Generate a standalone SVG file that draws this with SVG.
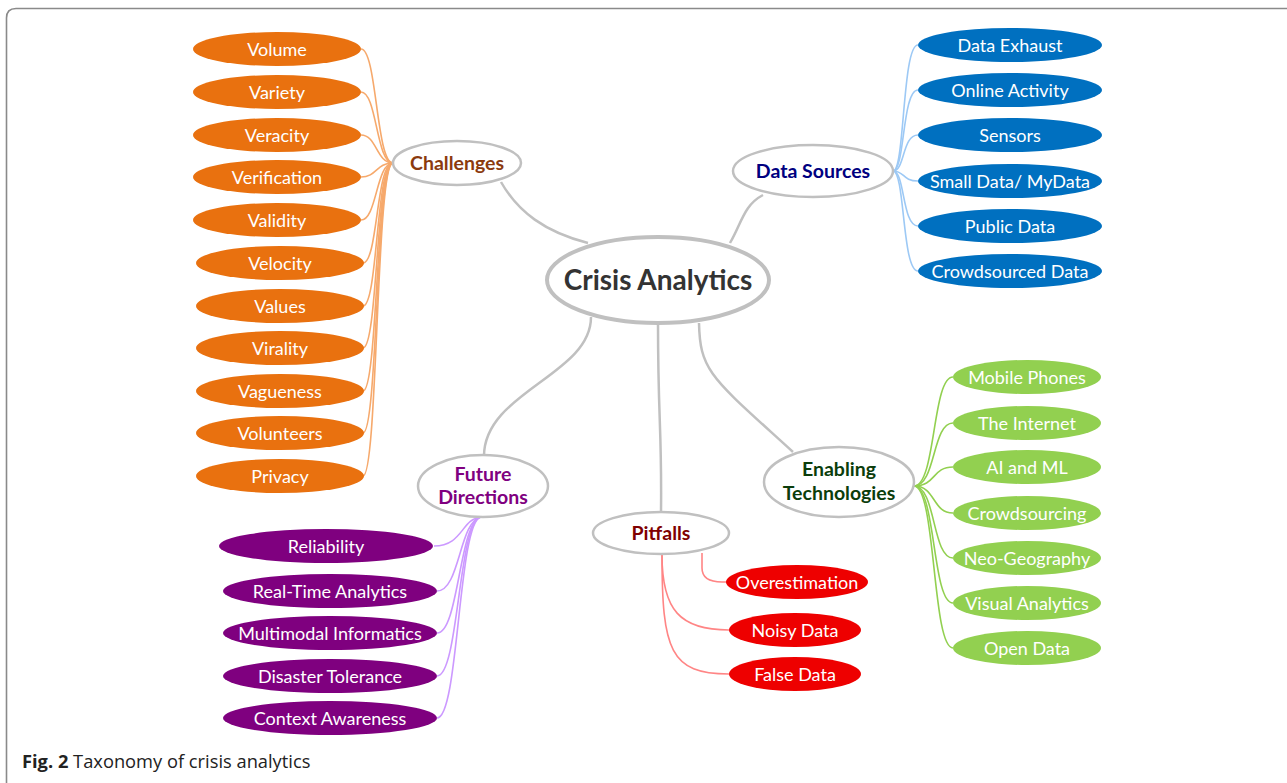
<svg xmlns="http://www.w3.org/2000/svg" width="1287" height="783" viewBox="0 0 1287 783">
<style>
text{font-family:Lato,"Open Sans","DejaVu Sans",sans-serif;text-anchor:middle}
.leaf{font-size:18px;fill:#fff}
.hub{fill:#fff;stroke:#c0c0c0;stroke-width:2.5}
.hubt{font-size:19.5px;font-weight:bold}
.main{fill:none;stroke:#c0c0c0;stroke-width:2.5}
.or{fill:#e9710f}.bl{fill:#0070c0}.pu{fill:#7f007f}.rd{fill:#ee0000}.gr{fill:#92d050}
.cor{fill:none;stroke:#f6a96c;stroke-width:1.6}
.cbl{fill:none;stroke:#9dc9f5;stroke-width:1.6}
.cpu{fill:none;stroke:#cc99ff;stroke-width:1.6}
.crd{fill:none;stroke:#ff8585;stroke-width:1.6}
.cgr{fill:none;stroke:#92d050;stroke-width:1.6}
</style>
<rect width="1287" height="783" fill="#fff"/>
<path d="M6.5 783 V18 Q6.5 8.5 16 8.5 H1287" fill="none" stroke="#8a8a8a" stroke-width="1.6"/>

<g id="connectors">
  <path class="main" d="M501 182 C518 212 545 232 588 243"/>
  <path class="main" d="M730 243 C742 222 744 205 763 195"/>
  <path class="main" d="M591 317 C591 375 484 392 484 456"/>
  <path class="main" d="M658 324 C658 420 662 430 661 512"/>
  <path class="main" d="M699 323 C700 372 712 378 793 452"/>
  <g>
    <path class="cor" d="M393 163 C376 163 377 49 361 49"/>
    <path class="cor" d="M393 163 C376 163 377 92 361 92"/>
    <path class="cor" d="M393 163 C376 163 377 135 361 135"/>
    <path class="cor" d="M393 163 C376 163 377 177 361 177"/>
    <path class="cor" d="M393 163 C376 163 377 220 361 220"/>
    <path class="cor" d="M393 163 C376 163 378 263 363 263"/>
    <path class="cor" d="M393 163 C376 163 378 306 363 306"/>
    <path class="cor" d="M393 163 C376 163 378 348 363 348"/>
    <path class="cor" d="M393 163 C376 163 378 391 363 391"/>
    <path class="cor" d="M393 163 C376 163 378 433 363 433"/>
    <path class="cor" d="M393 163 C376 163 378 476 363 476"/>
  </g>
  <g>
    <path class="cbl" d="M893 171 C905 171 902 45 918 45"/>
    <path class="cbl" d="M893 171 C905 171 902 90 918 90"/>
    <path class="cbl" d="M893 171 C905 171 902 135 918 135"/>
    <path class="cbl" d="M893 171 C905 171 902 181 918 181"/>
    <path class="cbl" d="M893 171 C905 171 902 226 918 226"/>
    <path class="cbl" d="M893 171 C905 171 902 271 918 271"/>
  </g>
  <g>
    <path class="cpu" d="M481 517 C461 519 463 546 434 546"/>
    <path class="cpu" d="M481 517 C459 521 460 591 437 591"/>
    <path class="cpu" d="M481 517 C459 521 459 633 437 633"/>
    <path class="cpu" d="M481 517 C458 521 459 676 437 676"/>
    <path class="cpu" d="M481 517 C458 521 459 718 437 718"/>
  </g>
  <g>
    <path class="crd" d="M702 553 V568 Q702 582 722 582 H727"/>
    <path class="crd" d="M662 555 C662 610 680 630 729 630"/>
    <path class="crd" d="M662 555 C662 650 670 674 729 674"/>
  </g>
  <g>
    <path class="cgr" d="M914 486 C936 486 932 377 953 377"/>
    <path class="cgr" d="M914 486 C936 486 932 423 953 423"/>
    <path class="cgr" d="M914 486 C936 486 932 467 953 467"/>
    <path class="cgr" d="M914 486 C936 486 932 513 953 513"/>
    <path class="cgr" d="M914 486 C936 486 932 558 953 558"/>
    <path class="cgr" d="M914 486 C936 486 932 603 953 603"/>
    <path class="cgr" d="M914 486 C936 486 932 648 953 648"/>
  </g>
</g>

<g id="crisis-analytics">
  <ellipse cx="658" cy="280" rx="111" ry="43" fill="#fff" stroke="#c0c0c0" stroke-width="4"/>
  <text x="658" y="290" style="font-size:28px;font-weight:bold;fill:#333">Crisis Analytics</text>
</g>

<g id="challenges">
  <ellipse class="hub" cx="457" cy="163" rx="64" ry="22"/>
  <text class="hubt" x="457" y="170" fill="#8b3a0e">Challenges</text>
</g>
<g id="volume"><ellipse class="or" cx="277" cy="49" rx="84" ry="17"/><text class="leaf" x="277" y="55.5">Volume</text></g>
<g id="variety"><ellipse class="or" cx="277" cy="92" rx="84" ry="17"/><text class="leaf" x="277" y="98.5">Variety</text></g>
<g id="veracity"><ellipse class="or" cx="277" cy="135" rx="84" ry="17"/><text class="leaf" x="277" y="141.5">Veracity</text></g>
<g id="verification"><ellipse class="or" cx="277" cy="177" rx="84" ry="17"/><text class="leaf" x="277" y="183.5">Verification</text></g>
<g id="validity"><ellipse class="or" cx="277" cy="220" rx="84" ry="17"/><text class="leaf" x="277" y="226.5">Validity</text></g>
<g id="velocity"><ellipse class="or" cx="280" cy="263" rx="84" ry="17"/><text class="leaf" x="280" y="269.5">Velocity</text></g>
<g id="values"><ellipse class="or" cx="280" cy="306" rx="84" ry="17"/><text class="leaf" x="280" y="312.5">Values</text></g>
<g id="virality"><ellipse class="or" cx="280" cy="348" rx="84" ry="17"/><text class="leaf" x="280" y="354.5">Virality</text></g>
<g id="vagueness"><ellipse class="or" cx="280" cy="391" rx="84" ry="17"/><text class="leaf" x="280" y="397.5">Vagueness</text></g>
<g id="volunteers"><ellipse class="or" cx="280" cy="433" rx="84" ry="17"/><text class="leaf" x="280" y="439.5">Volunteers</text></g>
<g id="privacy"><ellipse class="or" cx="280" cy="476" rx="84" ry="17"/><text class="leaf" x="280" y="482.5">Privacy</text></g>

<g id="data-sources">
  <ellipse class="hub" cx="813" cy="171" rx="80" ry="26"/>
  <text class="hubt" x="813" y="178" fill="#000080">Data Sources</text>
</g>
<g id="data-exhaust"><ellipse class="bl" cx="1010" cy="45" rx="92" ry="17"/><text class="leaf" x="1010" y="51.5">Data Exhaust</text></g>
<g id="online-activity"><ellipse class="bl" cx="1010" cy="90" rx="92" ry="17"/><text class="leaf" x="1010" y="96.5">Online Activity</text></g>
<g id="sensors"><ellipse class="bl" cx="1010" cy="135" rx="92" ry="17"/><text class="leaf" x="1010" y="141.5">Sensors</text></g>
<g id="small-data"><ellipse class="bl" cx="1010" cy="181" rx="92" ry="17"/><text class="leaf" x="1010" y="187.5">Small Data/ MyData</text></g>
<g id="public-data"><ellipse class="bl" cx="1010" cy="226" rx="92" ry="17"/><text class="leaf" x="1010" y="232.5">Public Data</text></g>
<g id="crowdsourced-data"><ellipse class="bl" cx="1010" cy="271" rx="92" ry="17"/><text class="leaf" x="1010" y="277.5">Crowdsourced Data</text></g>

<g id="future-directions">
  <ellipse class="hub" cx="483" cy="486" rx="65" ry="31"/>
  <text class="hubt" x="483" y="481" fill="#800080">Future</text>
  <text class="hubt" x="483" y="504" fill="#800080">Directions</text>
</g>
<g id="reliability"><ellipse class="pu" cx="326" cy="546" rx="107" ry="17"/><text class="leaf" x="326" y="552.5">Reliability</text></g>
<g id="real-time-analytics"><ellipse class="pu" cx="330" cy="591" rx="107" ry="17"/><text class="leaf" x="330" y="597.5">Real-Time Analytics</text></g>
<g id="multimodal-informatics"><ellipse class="pu" cx="330" cy="633" rx="107" ry="17"/><text class="leaf" x="330" y="639.5">Multimodal Informatics</text></g>
<g id="disaster-tolerance"><ellipse class="pu" cx="330" cy="676" rx="107" ry="17"/><text class="leaf" x="330" y="682.5">Disaster Tolerance</text></g>
<g id="context-awareness"><ellipse class="pu" cx="330" cy="718" rx="107" ry="17"/><text class="leaf" x="330" y="724.5">Context Awareness</text></g>

<g id="pitfalls">
  <ellipse class="hub" cx="661" cy="533" rx="68" ry="21"/>
  <text class="hubt" x="661" y="540" fill="#800000">Pitfalls</text>
</g>
<g id="overestimation"><ellipse class="rd" cx="797" cy="582" rx="71" ry="17"/><text class="leaf" x="797" y="588.5">Overestimation</text></g>
<g id="noisy-data"><ellipse class="rd" cx="795" cy="630" rx="66" ry="17"/><text class="leaf" x="795" y="636.5">Noisy Data</text></g>
<g id="false-data"><ellipse class="rd" cx="795" cy="674" rx="66" ry="17"/><text class="leaf" x="795" y="680.5">False Data</text></g>

<g id="enabling-technologies">
  <ellipse class="hub" cx="839" cy="482" rx="75" ry="35"/>
  <text class="hubt" x="839" y="476" fill="#0b3d0b">Enabling</text>
  <text class="hubt" x="839" y="500" fill="#0b3d0b">Technologies</text>
</g>
<g id="mobile-phones"><ellipse class="gr" cx="1027" cy="377" rx="74" ry="17"/><text class="leaf" x="1027" y="383.5">Mobile Phones</text></g>
<g id="the-internet"><ellipse class="gr" cx="1027" cy="423" rx="74" ry="17"/><text class="leaf" x="1027" y="429.5">The Internet</text></g>
<g id="ai-ml"><ellipse class="gr" cx="1027" cy="467" rx="74" ry="17"/><text class="leaf" x="1027" y="473.5">AI and ML</text></g>
<g id="crowdsourcing"><ellipse class="gr" cx="1027" cy="513" rx="74" ry="17"/><text class="leaf" x="1027" y="519.5">Crowdsourcing</text></g>
<g id="neo-geography"><ellipse class="gr" cx="1027" cy="558" rx="74" ry="17"/><text class="leaf" x="1027" y="564.5">Neo-Geography</text></g>
<g id="visual-analytics"><ellipse class="gr" cx="1027" cy="603" rx="74" ry="17"/><text class="leaf" x="1027" y="609.5">Visual Analytics</text></g>
<g id="open-data"><ellipse class="gr" cx="1027" cy="648" rx="74" ry="17"/><text class="leaf" x="1027" y="654.5">Open Data</text></g>

<text x="22" y="768" style="text-anchor:start;font-family:'Open Sans','Noto Sans',sans-serif;font-size:18.3px;fill:#222"><tspan font-weight="bold">Fig. 2</tspan> Taxonomy of crisis analytics</text>
</svg>
